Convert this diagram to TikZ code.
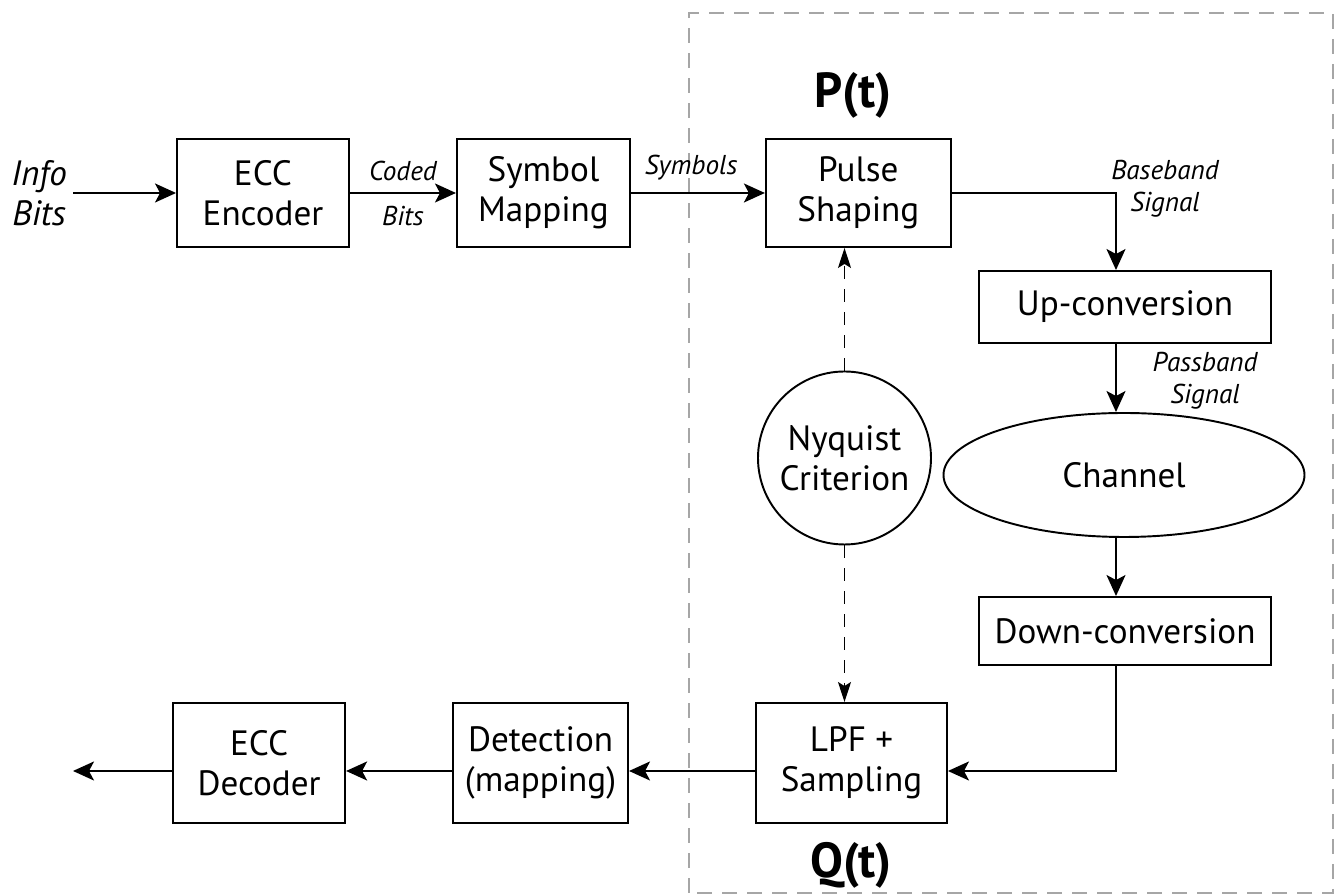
\documentclass[tikz,border=0pt]{standalone}
\usepackage{fontspec}
\setmainfont{PT Sans}
\usetikzlibrary{positioning}
\usetikzlibrary{calc}
\usetikzlibrary{arrows.meta}
\usetikzlibrary{shapes.geometric}

\begin{document}
\begin{tikzpicture}[B/.style={draw, line width=1.1pt, align=center, inner sep=0pt, font=\fontsize{20}{23}\selectfont},
        L/.style={font=\itshape\fontsize{15.5}{18}\selectfont, align=center},
        A/.style={-{Stealth[length=0.42cm,width=0.38cm,inset=0.1cm]}, line width=1.1pt},
        D/.style={-{Stealth[length=0.4cm,width=0.26cm,inset=0.08cm]}, line width=0.8pt, dash pattern=on 0.26cm off 0.2cm}]
            \useasboundingbox (0,0) rectangle (26.72,17.9);
            % transmitter/receiver core
            \draw[gray!70, line width=0.8pt, dash pattern=on 0.3cm off 0.2cm] (13.78,0.04) rectangle (26.66,17.64);
            \node[B, minimum width=3.44cm, minimum height=2.16cm] (enc) at (5.26,14.04) {ECC\\Encoder};
            \node[B, minimum width=3.46cm, minimum height=2.16cm, right=2.12cm of enc] (map) {Symbol\\Mapping};
            \node[B, minimum width=3.7cm, minimum height=2.16cm, right=2.68cm of map] (pulse) {Pulse\\Shaping};
            \node[B, minimum width=5.84cm, minimum height=1.44cm] (up) at (22.5,11.76) {Up-conversion};
            \node[B, ellipse, minimum width=7.22cm, minimum height=2.48cm] (chan) at (22.48,8.4) {Channel};
            \node[B, minimum width=5.84cm, minimum height=1.36cm] (down) at (22.5,5.28) {Down-conversion};
            \node[B, minimum width=3.82cm, minimum height=2.4cm] (lpf) at (17.03,2.64) {LPF +\\Sampling};
            \node[B, minimum width=3.5cm, minimum height=2.4cm, left=2.52cm of lpf] (det) {Detection\\(mapping)};
            \node[B, minimum width=3.44cm, minimum height=2.4cm, left=2.12cm of det] (dec) {ECC\\Decoder};
            \node[B, circle, minimum size=3.46cm] (nyq) at (16.89,8.74) {Nyquist\\Criterion};
            \node[L, font=\itshape\fontsize{20}{23}\selectfont, anchor=east] (info) at (1.46,14.04) {Info\\Bits};
            \node[font=\bfseries\fontsize{28}{32}\selectfont] (pt) at (17.06,16.0) {P(t)};
            \node[font=\bfseries\fontsize{28}{32}\selectfont] (qt) at (17.02,0.6) {Q(t)};
            \node[L] (bb) at (23.3,14.12) {Baseband\\Signal};
            \node[L] (pb) at (24.1,10.28) {Passband\\Signal};
            \coordinate (bus) at (22.32,14.04);
            \coordinate (out) at (1.46,2.48);
            % forward path
            \draw[A] (info.east) -- (enc.west);
            \draw[A] (enc) -- node[L, above=0.1cm] (cb1) {Coded} node[L, below=0.12cm] (cb2) {Bits} (map);
            \draw[A] (map) -- node[L, above=0.12cm, pos=0.45] (sym) {Symbols} (pulse);
            \draw[A] (pulse.east) -| (up.north -| bus);
            \draw[A] (up.south -| bus) -- (chan.north -| bus);
            \draw[A] (chan.south -| bus) -- (down.north -| bus);
            \draw[A] (down.south -| bus) |- ([yshift=-0.16cm]lpf.east);
            \draw[A] ([yshift=-0.16cm]lpf.west) -- ([yshift=-0.16cm]det.east);
            \draw[A] ([yshift=-0.16cm]det.west) -- ([yshift=-0.16cm]dec.east);
            \draw[A] ([yshift=-0.16cm]dec.west) -- (out);
            % nyquist links
            \draw[D] (nyq.north) -- (nyq.north |- pulse.south);
            \draw[D] (nyq.south) -- (nyq.south |- lpf.north);
        \end{tikzpicture}
\end{document}
